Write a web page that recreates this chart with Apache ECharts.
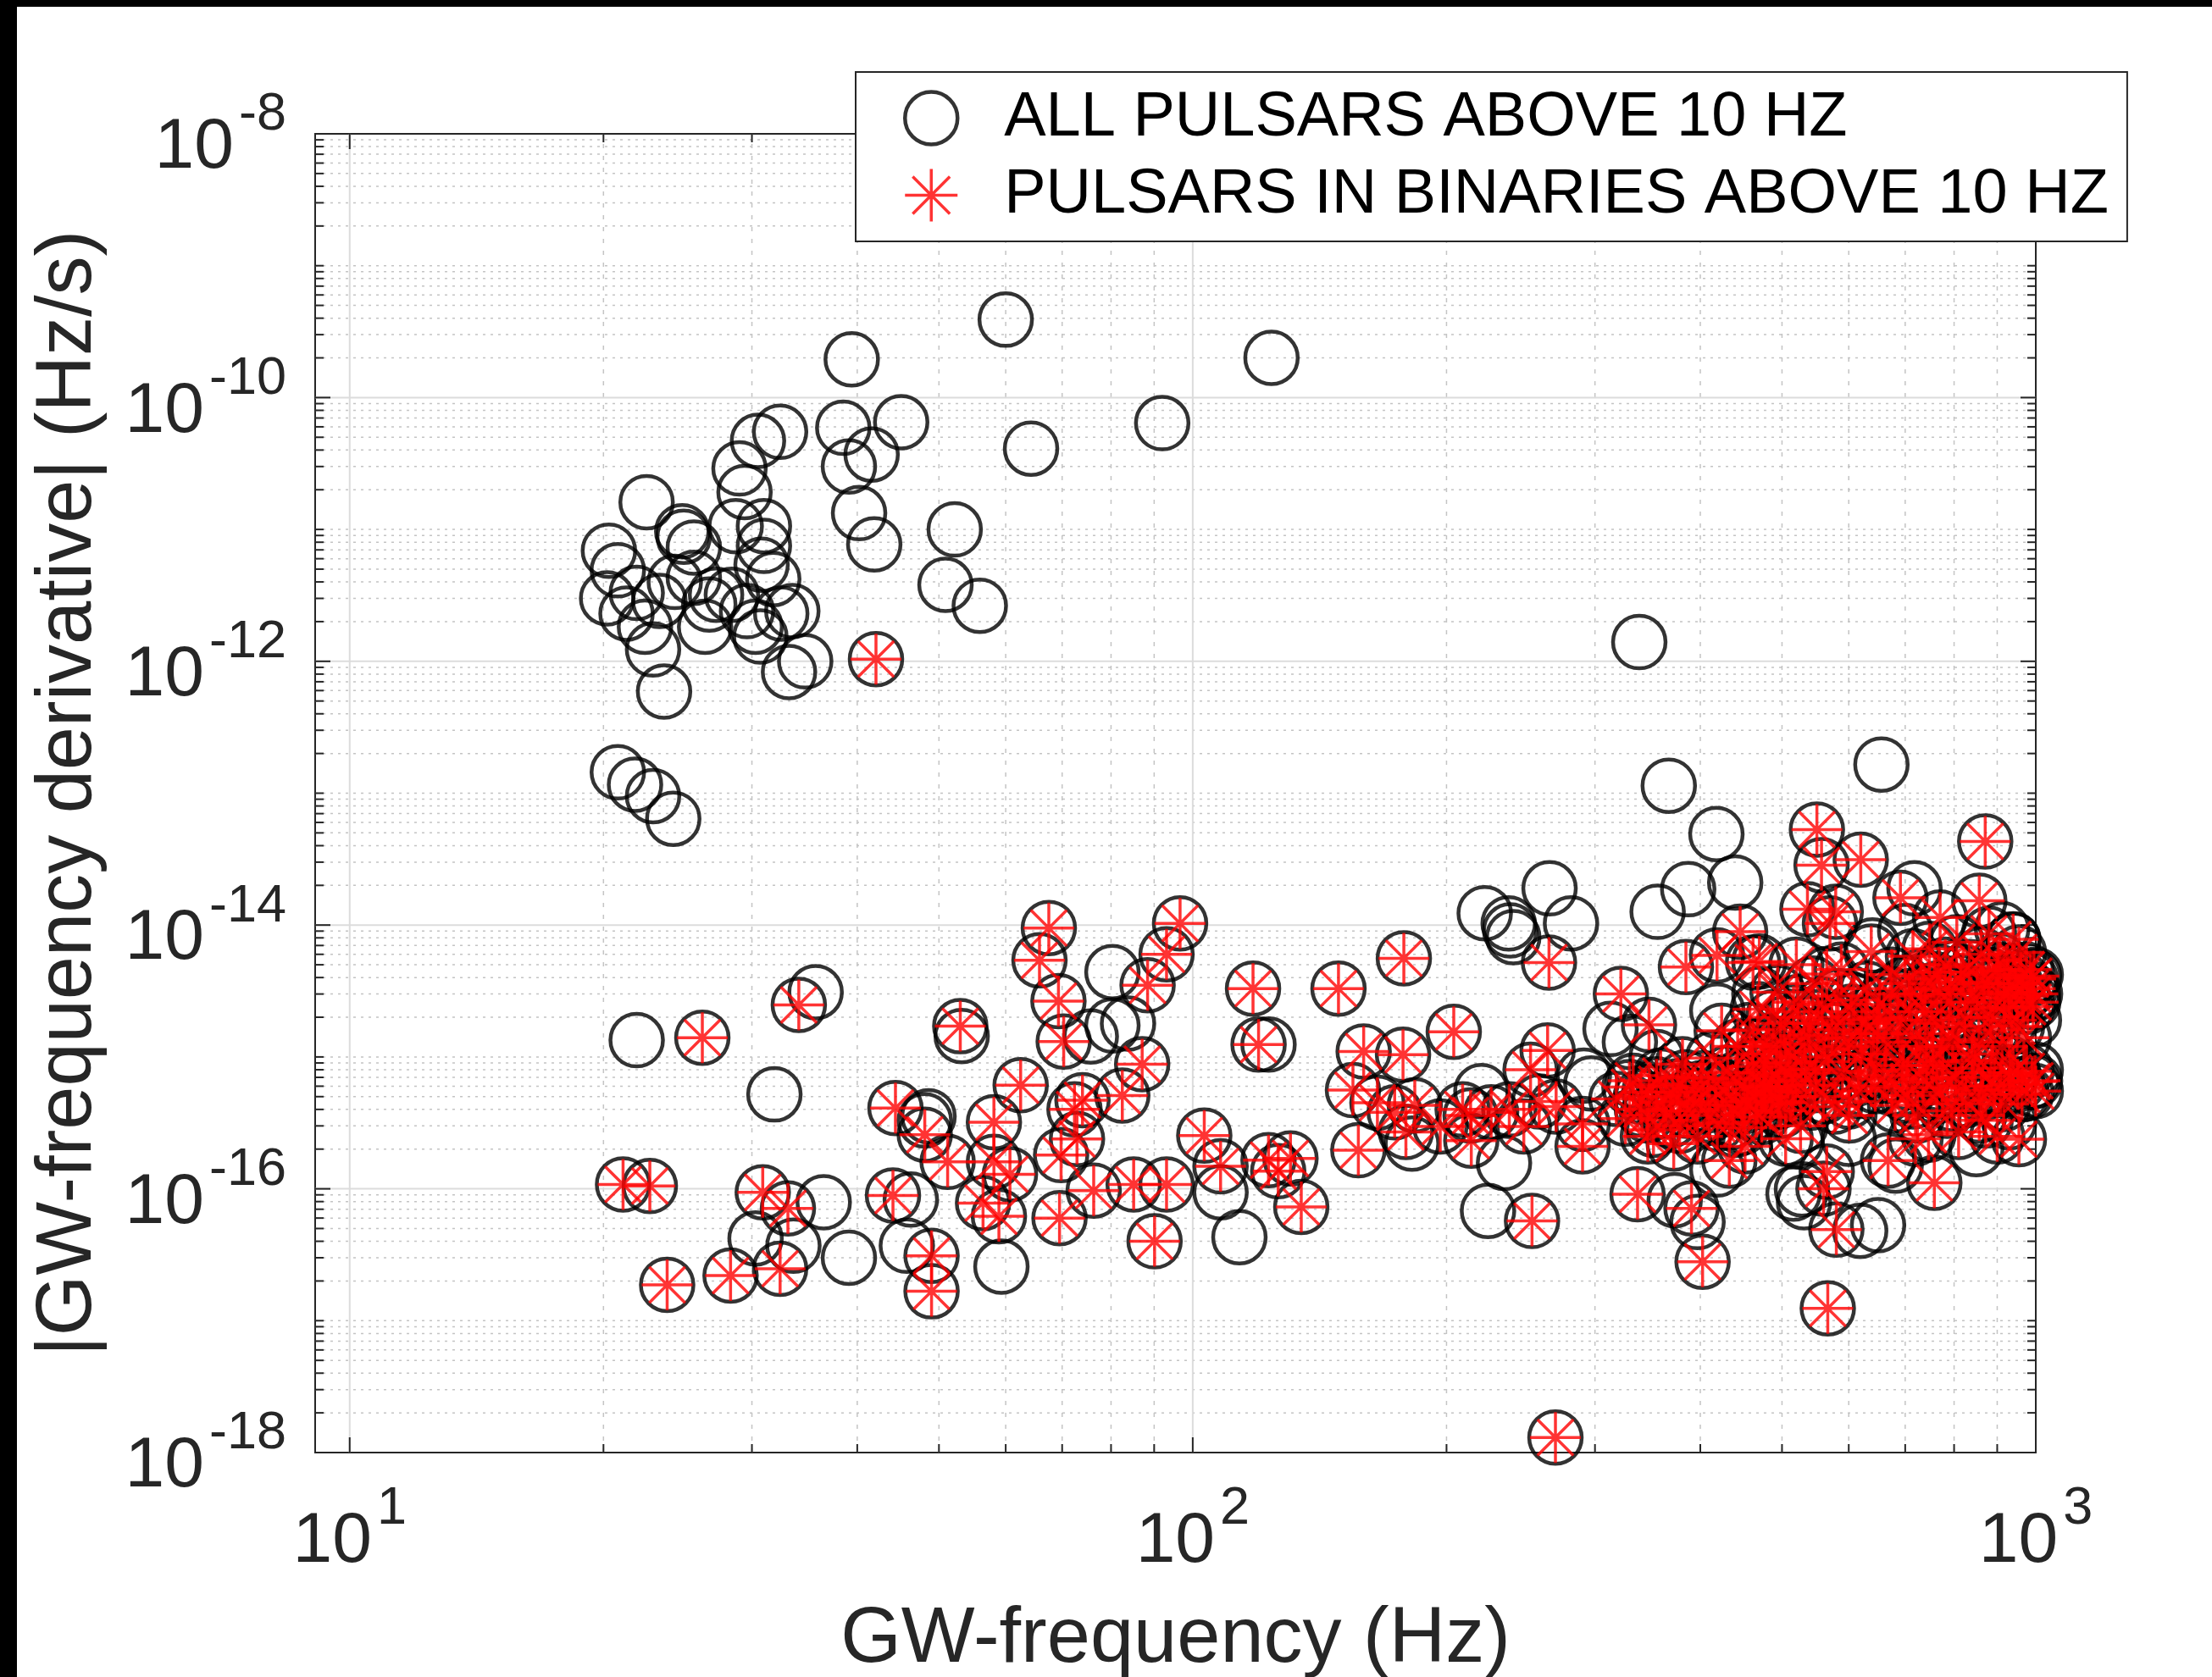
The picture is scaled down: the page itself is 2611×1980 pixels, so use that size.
<!DOCTYPE html>
<html>
<head>
<meta charset="utf-8">
<script src="https://cdn.jsdelivr.net/npm/echarts@6/dist/echarts.min.js"></script>
<style>
  html, body { margin: 0; padding: 0; background: #000; width: 2611px; height: 1980px; overflow: hidden; }
  #chart { position: absolute; left: 20px; top: 8px; width: 2591px; height: 1972px; background: #fff; }
</style>
</head>
<body>
<div id="chart"></div>
<script>
// ---------------- DATA (GW frequency in Hz, |GW frequency derivative| in Hz/s) ----------------
const S1 = 'ALL PULSARS ABOVE 10 HZ';
const S2 = 'PULSARS IN BINARIES ABOVE 10 HZ';

// axis ranges and ticks
const X_MIN = 9.1, X_MAX = 1000;
const Y_MIN = 1e-18, Y_MAX = 1e-8;
const xMajorTicks = [10, 100, 1000];
const xMinorTicks = [20, 30, 40, 50, 60, 70, 80, 90, 200, 300, 400, 500, 600, 700, 800, 900];
const yMajorTicks = [1e-18, 1e-16, 1e-14, 1e-12, 1e-10, 1e-8];
const yDecades = [-18, -17, -16, -15, -14, -13, -12, -11, -10, -9];
const yMinorMultipliers = [1, 2, 3, 4, 5, 6, 7, 8, 9];

// isolated pulsars (circle only)
const isolatedUpper = [
  [60, 3.9e-10], [39.4, 1.95e-10], [124, 2.0e-10], [92, 6.4e-11], [64.3, 4.1e-11],
  [32.4, 5.5e-11], [30.5, 4.7e-11], [29.0, 2.9e-11], [38.5, 5.9e-11], [45.1, 6.5e-11],
  [39.1, 3.0e-11], [41.6, 3.7e-11], [29.4, 1.92e-11], [22.5, 1.61e-11], [40.2, 1.33e-11],
  [41.9, 7.7e-12], [52.2, 1.0e-11], [50.9, 3.8e-12], [55.9, 2.64e-12], [28.7, 1.06e-11],
  [31.0, 1.06e-11], [24.8, 9.7e-12], [24.9, 8.8e-12], [25.6, 7.3e-12], [20.3, 6.9e-12],
  [20.8, 4.9e-12], [31.0, 7.5e-12], [30.8, 5.4e-12], [31.8, 4.2e-12], [20.2, 3.0e-12],
  [21.9, 3.3e-12], [23.3, 2.87e-12], [24.3, 4.0e-12], [25.6, 4.3e-12], [26.7, 2.7e-12],
  [28.4, 3.2e-12], [29.6, 2.4e-12], [30.3, 1.83e-12], [32.5, 2.3e-12], [33.5, 2.4e-12],
  [22.4, 1.83e-12], [22.9, 1.23e-12], [21.3, 2.3e-12], [26.4, 1.83e-12], [23.6, 5.9e-13],
  [33.2, 8.3e-13], [34.7, 1.0e-12], [27.2, 3.2e-12], [30.7, 1.54e-12],
  [20.8, 1.44e-13], [21.8, 1.16e-13], [22.9, 9.5e-14], [24.2, 6.4e-14]
];
const isolatedLowLeft = [
  [21.9, 1.34e-15], [35.7, 3.1e-15], [31.9, 5.2e-16], [53.2, 1.44e-15], [48.1, 3.3e-16],
  [36.5, 7.9e-17], [30.3, 4.2e-17], [33.6, 3.7e-17], [39.1, 3.0e-17], [48.6, 3.55e-16],
  [46.3, 8.3e-17], [45.8, 3.7e-17], [75.7, 1.43e-15], [80.3, 1.73e-15], [80.3, 4.4e-15],
  [83.8, 1.79e-15], [59.3, 2.57e-17], [107.9, 9.4e-17], [113.6, 4.3e-17], [123, 1.24e-15]
];
const isolatedRight = [
  [338.6, 1.4e-12], [656, 1.65e-13], [367, 1.14e-13], [418, 4.9e-14], [222, 1.23e-14],
  [237, 1.03e-14], [240, 8.1e-15], [238, 9.1e-15], [265, 1.9e-14], [281, 1.03e-14],
  [356, 1.26e-14], [387, 1.87e-14], [440, 2.1e-14], [419, 2.24e-15], [234, 1.57e-16],
  [224, 6.8e-17], [313, 1.63e-15], [291, 7.2e-16], [531, 7.9e-17], [619, 4.8e-17],
  [297, 6.3e-16], [220, 5.5e-16], [182, 2.2e-16], [419, 1.4e-16], [397, 5.6e-17],
  [373, 8.2e-17], [528, 9.9e-17], [718, 1.9e-14], [912, 9.3e-15], [941, 7.7e-15],
  [1000, 4.2e-15], [998, 3.0e-15], [995, 1.9e-15], [1000, 8.0e-16], [975, 5.3e-16],
  [930, 3.2e-16], [516, 9.2e-17], [650, 5.3e-17], [682, 1.5e-16], [700, 9.0e-15],
  [640, 7.0e-15], [600, 2.4e-16], [520, 2.3e-16], [440, 2.8e-16], [470, 3.0e-15],
  [760, 5.0e-16], [880, 1.9e-15], [850, 2.0e-16], [330, 1.3e-15], [355, 1.0e-15]
];

// pulsars in binaries (circle + asterisk)
const binaryLeft = [
  [42.1, 1.04e-12],
  [26.2, 1.40e-15], [34.1, 2.48e-15], [53.0, 1.71e-15], [44.4, 4.1e-16], [48.1, 2.57e-16],
  [21.1, 1.08e-16], [22.7, 1.05e-16], [23.8, 1.87e-17], [28.3, 2.2e-17], [32.4, 2.48e-17],
  [30.9, 9.4e-17], [33.1, 7.1e-17], [51.2, 1.6e-16], [44.1, 8.9e-17], [49.0, 3.1e-17],
  [49.0, 1.67e-17], [67.5, 9.5e-15], [65.8, 5.4e-15], [69.3, 2.65e-15], [70.3, 1.31e-15],
  [96.6, 1.03e-14], [93.1, 6.0e-15], [88.4, 3.5e-15], [87.1, 8.8e-16], [82.5, 5.1e-16],
  [62.5, 6.1e-16], [58.1, 3.2e-16], [72.4, 4.0e-16], [74.0, 4.7e-16], [69.8, 1.80e-16],
  [72.9, 2.39e-16], [58.1, 1.6e-16], [60.7, 1.29e-16], [56.4, 7.8e-17], [58.9, 6.2e-17],
  [69.5, 6.0e-17], [76.3, 9.7e-17], [85.1, 1.08e-16], [93.1, 1.08e-16], [90.1, 4.0e-17],
  [103.2, 2.53e-16], [107.9, 1.48e-16], [123, 1.65e-16], [130.6, 1.7e-16], [134.5, 7.3e-17],
  [126.3, 1.36e-16], [117.9, 3.3e-15], [119.7, 1.24e-15], [148.9, 3.3e-15],
  [159.5, 1.10e-15], [154.9, 5.6e-16], [157.2, 1.96e-16], [165.6, 4.5e-16], [178, 5.6e-15],
  [177.6, 1.04e-15], [173.6, 3.8e-16], [179, 2.7e-16]
];
const binaryMid = [
  [204, 1.55e-15], [183.4, 4.3e-16], [213.6, 3.6e-16], [209, 4.0e-16], [225.9, 3.8e-16],
  [237.4, 4.0e-16], [214, 2.32e-16], [196.6, 2.97e-16], [247, 2.97e-16],
  [264.6, 5.2e-15], [263.6, 1.12e-15], [251.6, 8.0e-16], [257.6, 4.6e-16], [269.8, 4.2e-16],
  [290, 3.1e-16], [290, 2.1e-16], [252.6, 5.7e-17],
  [322, 3.0e-15], [347.7, 1.75e-15], [384.6, 4.8e-15], [418.7, 5.9e-15], [446, 8.9e-15],
  [470, 5.3e-15], [329.6, 5.9e-16], [378.4, 4.6e-16], [424, 1.58e-15], [477, 5.9e-16],
  [337, 9.1e-17], [390.5, 7.1e-17], [346.6, 2.5e-16], [433, 1.64e-16], [402.5, 2.8e-17],
  [566.6, 1.24e-17], [269.3, 1.3e-18], [580, 4.9e-17], [560, 1.0e-16]
];
const binaryRight = [
  [550, 5.3e-14], [557, 2.84e-14], [620, 3.13e-14], [871, 4.3e-14], [857, 1.53e-14],
  [691, 1.61e-14], [579, 1.26e-14], [570, 1.03e-14], [536, 1.32e-14], [770, 1.14e-14],
  [638, 6.3e-15], [462, 5.2e-15], [565, 4.26e-15], [758, 3.9e-15], [986, 3.9e-15],
  [993, 2.6e-15], [918, 2.36e-15], [650, 1.94e-15], [540, 1.37e-15], [477, 7.6e-16],
  [452, 4.6e-16], [496, 4.6e-16], [601, 3.6e-16], [702, 5.1e-16], [770, 7.6e-16],
  [865, 5.6e-16], [933, 7.2e-16], [955, 2.38e-16], [758, 1.11e-16], [668, 1.64e-16],
  [565, 1.35e-16], [746, 2.57e-16], [857, 3.6e-16]
];
const binaryCoreA = [
  [318, 4.8e-16], [326, 3.4e-16], [333, 6.6e-16], [341, 4.0e-16], [348, 5.4e-16],
  [352, 2.8e-16], [359, 7.2e-16], [364, 4.5e-16], [369, 3.3e-16], [376, 6.0e-16],
  [381, 8.8e-16], [386, 3.9e-16], [392, 5.1e-16], [397, 2.5e-16], [403, 6.9e-16],
  [408, 4.3e-16], [414, 9.8e-16], [419, 3.1e-16], [425, 5.7e-16], [431, 7.6e-16],
  [437, 4.0e-16], [443, 1.2e-15], [448, 2.9e-16], [455, 6.2e-16], [461, 8.5e-16],
  [467, 4.8e-16], [473, 3.5e-16], [479, 1.05e-15], [486, 5.5e-16], [492, 7.2e-16],
  [499, 3.9e-16], [505, 9.0e-16], [512, 5.0e-16], [519, 6.6e-16], [526, 3.0e-16],
  [533, 8.0e-16], [540, 4.5e-16], [372, 2.2e-16], [452, 2.1e-16], [505, 2.4e-16],
  [340, 5.0e-16], [346, 3.6e-16], [355, 6.2e-16], [362, 3.9e-16], [371, 5.4e-16],
  [378, 3.0e-16], [384, 7.0e-16], [394, 4.4e-16], [401, 5.8e-16], [410, 3.6e-16],
  [417, 6.4e-16], [428, 4.6e-16], [434, 3.2e-16], [441, 6.8e-16], [450, 4.2e-16],
  [458, 5.2e-16], [466, 3.8e-16], [476, 6.0e-16], [484, 4.4e-16], [495, 5.4e-16]
];
const binaryCoreB = [
  [458, 1.6e-15], [468, 2.3e-15], [482, 1.3e-15], [494, 3.1e-15], [503, 1.8e-15],
  [511, 1.1e-15], [522, 2.6e-15], [531, 1.45e-15], [544, 3.6e-15], [552, 2.0e-15],
  [561, 9.2e-16], [573, 1.6e-15], [583, 2.9e-15], [592, 1.2e-15], [604, 2.2e-15],
  [611, 6.8e-16], [622, 1.5e-15], [631, 3.3e-15], [642, 9.6e-16], [653, 2.5e-15],
  [664, 1.3e-15], [675, 4.2e-15], [686, 1.9e-15], [697, 8.0e-16], [588, 4.6e-15],
  [616, 5.5e-16], [547, 6.1e-16], [578, 4.2e-16], [645, 6.0e-16], [520, 5.0e-15],
  [462, 1.2e-15], [475, 9.0e-16], [488, 2.0e-15], [498, 1.25e-15], [508, 7.5e-16],
  [516, 2.2e-15], [527, 1.0e-15], [538, 1.8e-15], [549, 8.0e-16], [558, 2.5e-15],
  [568, 1.15e-15], [580, 1.9e-15], [590, 7.6e-16], [600, 1.4e-15], [608, 2.7e-15],
  [620, 1.05e-15], [628, 1.8e-15], [638, 7.8e-16], [648, 1.5e-15], [515, 5.6e-16],
  [560, 5.0e-16], [600, 4.6e-16]
];
const binaryCoreC = [
  [708, 2.9e-15], [715, 5.8e-15], [722, 1.5e-15], [731, 4.1e-15], [739, 2.2e-15],
  [748, 6.6e-15], [755, 1.15e-15], [764, 3.3e-15], [772, 1.8e-15], [781, 5.0e-15],
  [789, 2.6e-15], [797, 1.35e-15], [806, 7.4e-15], [815, 3.7e-15], [824, 2.0e-15],
  [834, 4.8e-15], [843, 1.05e-15], [852, 3.0e-15], [861, 6.0e-15], [870, 2.3e-15],
  [879, 4.2e-15], [889, 1.6e-15], [898, 3.4e-15], [907, 5.4e-15], [917, 2.8e-15],
  [926, 4.5e-15], [936, 1.9e-15], [946, 3.6e-15], [955, 6.2e-15], [965, 2.9e-15],
  [975, 4.6e-15], [985, 3.3e-15], [995, 4.1e-15], [968, 1.4e-15], [880, 8.6e-15],
  [940, 7.8e-15],
  [660, 2.0e-15], [672, 3.0e-15], [690, 1.4e-15], [700, 3.6e-15], [712, 2.2e-15],
  [728, 1.2e-15], [735, 3.0e-15], [752, 1.9e-15], [768, 4.4e-15], [776, 1.2e-15],
  [792, 3.2e-15], [810, 1.7e-15], [820, 4.4e-15], [838, 2.6e-15], [856, 1.3e-15],
  [866, 3.6e-15], [884, 2.0e-15], [902, 4.6e-15], [912, 1.2e-15], [930, 3.1e-15],
  [950, 1.7e-15], [960, 4.0e-15], [978, 2.4e-15], [992, 3.0e-15]
];
const binaryCoreLow = [
  [662, 7.2e-16], [681, 4.3e-16], [705, 6.4e-16], [724, 3.6e-16], [742, 8.6e-16],
  [763, 5.4e-16], [785, 3.9e-16], [803, 7.0e-16], [826, 4.7e-16], [848, 8.2e-16],
  [872, 3.3e-16], [893, 6.0e-16], [916, 4.4e-16], [940, 7.6e-16], [963, 5.2e-16],
  [990, 6.5e-16], [720, 2.4e-16], [810, 2.7e-16], [900, 2.5e-16], [1000, 5.5e-16],
  [675, 5.8e-16], [695, 8.6e-16], [715, 4.6e-16], [735, 6.8e-16], [755, 9.2e-16],
  [775, 5.8e-16], [795, 4.4e-16], [818, 6.0e-16], [840, 9.4e-16], [862, 5.2e-16],
  [885, 7.6e-16], [908, 5.6e-16], [930, 9.0e-16], [952, 6.2e-16], [975, 7.8e-16],
  [998, 6.6e-16]
];

// ---------------- BUILD ----------------
const binaryPulsars = [].concat(binaryLeft, binaryMid, binaryRight, binaryCoreA, binaryCoreB, binaryCoreC, binaryCoreLow);
const allPulsars = [].concat(isolatedUpper, isolatedLowLeft, isolatedRight, binaryPulsars);

const yMinorTicks = [];
yDecades.forEach(function (d) {
  yMinorMultipliers.forEach(function (m) {
    const v = m * Math.pow(10, d);
    const isMajor = (m === 1 && d % 2 === 0);
    if (!isMajor) yMinorTicks.push(v);
  });
});

const FONT = '"Liberation Sans", Arial, Helvetica, sans-serif';
const AX = '#262626';
const ASTERISK = 'path://M0 -1 L0 1 M-1 0 L1 0 M-0.7071 -0.7071 L0.7071 0.7071 M-0.7071 0.7071 L0.7071 -0.7071';

const minorH = { stroke: '#c4c4c4', lineWidth: 1.5, lineDash: [3, 6] };
const minorV = { stroke: '#c4c4c4', lineWidth: 1.5, lineDash: [5, 9] };
const majorGrid = { stroke: '#dcdcdc', lineWidth: 2 };
const tickStyle = { stroke: AX, lineWidth: 2 };

const labelRich = {
  b: { fontSize: 84, fontFamily: FONT, fill: AX, padding: [34, 0, 0, 0] },
  e: { fontSize: 63, fontFamily: FONT, fill: AX, padding: [0, 0, 44, 6] }
};

function ln(x1, y1, x2, y2, style) {
  return { type: 'line', shape: { x1: x1, y1: y1, x2: x2, y2: y2 }, style: style };
}
function expOf(v) { return Math.round(Math.log10(v)); }

const chart = echarts.init(document.getElementById('chart'), null, { renderer: 'canvas' });

const option = {
  animation: false,
  backgroundColor: '#fff',
  grid: {
    left: 352, top: 150, right: 208, bottom: 265,
    outerBoundsMode: 'none', containLabel: false,
    show: true, borderColor: AX, borderWidth: 2, backgroundColor: 'transparent'
  },
  xAxis: {
    type: 'log', min: X_MIN, max: X_MAX,
    axisLine: { show: false }, axisTick: { show: false }, axisLabel: { show: false }, splitLine: { show: false },
    name: 'GW-frequency (Hz)', nameLocation: 'middle', nameGap: 176,
    nameTextStyle: { fontSize: 92, fontFamily: FONT, color: AX }
  },
  yAxis: {
    type: 'log', min: Y_MIN, max: Y_MAX,
    axisLine: { show: false }, axisTick: { show: false }, axisLabel: { show: false }, splitLine: { show: false },
    name: '|GW-frequency derivative| (Hz/s)', nameLocation: 'middle', nameGap: 244,
    nameTextStyle: { fontSize: 92, fontFamily: FONT, color: AX }
  },
  legend: {
    left: 990, top: 77, orient: 'vertical',
    itemWidth: 62, itemHeight: 62, itemGap: 16,
    padding: [17, 22, 17, 56],
    borderColor: AX, borderWidth: 2, backgroundColor: '#fff',
    selectedMode: false,
    textStyle: { fontSize: 74, fontFamily: FONT, color: '#000', lineHeight: 75, padding: [0, 0, 0, 50] },
    data: [
      { name: S1, icon: 'circle', itemStyle: { color: 'rgba(0,0,0,0)', borderColor: '#000', borderWidth: 4.5 } },
      { name: S2, icon: ASTERISK, itemStyle: { color: 'rgba(0,0,0,0)', borderColor: '#ff0000', borderWidth: 3.5 } }
    ]
  },
  series: [
    {
      type: 'custom', name: 'yMinor', silent: true, z: 1,
      data: yMinorTicks.map(function (v) { return [X_MIN, v]; }),
      renderItem: function (p, api) {
        const v = api.value(1);
        const a = api.coord([X_MIN, v]), b = api.coord([X_MAX, v]);
        return { type: 'group', children: [
          ln(a[0], a[1], b[0], b[1], minorH),
          ln(a[0], a[1], a[0] + 10, a[1], tickStyle),
          ln(b[0] - 10, b[1], b[0], b[1], tickStyle)
        ] };
      }
    },
    {
      type: 'custom', name: 'xMinor', silent: true, z: 1,
      data: xMinorTicks.map(function (v) { return [v, Y_MIN]; }),
      renderItem: function (p, api) {
        const v = api.value(0);
        const a = api.coord([v, Y_MIN]), b = api.coord([v, Y_MAX]);
        return { type: 'group', children: [
          ln(a[0], a[1], b[0], b[1], minorV),
          ln(a[0], a[1], a[0], a[1] - 10, tickStyle),
          ln(b[0], b[1], b[0], b[1] + 10, tickStyle)
        ] };
      }
    },
    {
      type: 'custom', name: 'yMajor', silent: true, z: 2,
      data: yMajorTicks.map(function (v) { return [X_MIN, v]; }),
      renderItem: function (p, api) {
        const v = api.value(1);
        const a = api.coord([X_MIN, v]), b = api.coord([X_MAX, v]);
        const ch = [];
        if (v !== Y_MIN && v !== Y_MAX) ch.push(ln(a[0], a[1], b[0], b[1], majorGrid));
        ch.push(ln(a[0], a[1], a[0] + 18, a[1], tickStyle));
        ch.push(ln(b[0] - 18, b[1], b[0], b[1], tickStyle));
        ch.push({ type: 'text', x: a[0] - 34, y: a[1], style: {
          text: '{b|10}{e|' + expOf(v) + '}', rich: labelRich, align: 'right', verticalAlign: 'middle', fill: AX, fontFamily: FONT, fontSize: 84 } });
        return { type: 'group', children: ch };
      }
    },
    {
      type: 'custom', name: 'xMajor', silent: true, z: 2,
      data: xMajorTicks.map(function (v) { return [v, Y_MIN]; }),
      renderItem: function (p, api) {
        const v = api.value(0);
        const a = api.coord([v, Y_MIN]), b = api.coord([v, Y_MAX]);
        const ch = [];
        if (v !== X_MAX) ch.push(ln(a[0], a[1], b[0], b[1], majorGrid));
        ch.push(ln(a[0], a[1], a[0], a[1] - 18, tickStyle));
        ch.push(ln(b[0], b[1], b[0], b[1] + 18, tickStyle));
        ch.push({ type: 'text', x: a[0], y: a[1] + 30, style: {
          text: '{b|10}{e|' + expOf(v) + '}', rich: labelRich, align: 'center', verticalAlign: 'top', fill: AX, fontFamily: FONT, fontSize: 84 } });
        return { type: 'group', children: ch };
      }
    },
    {
      type: 'scatter', name: S1, data: allPulsars, z: 3, clip: false, silent: true,
      symbol: 'circle', symbolSize: 62,
      itemStyle: { color: 'rgba(0,0,0,0)', borderColor: '#000', borderWidth: 4.5 },
      emphasis: { disabled: true }
    },
    {
      type: 'scatter', name: S2, data: binaryPulsars, z: 4, clip: false, silent: true,
      symbol: ASTERISK, symbolSize: 60,
      itemStyle: { color: 'rgba(0,0,0,0)', borderColor: '#ff0000', borderWidth: 3.5 },
      emphasis: { disabled: true }
    }
  ]
};
chart.setOption(option);
</script>
</body>
</html>
